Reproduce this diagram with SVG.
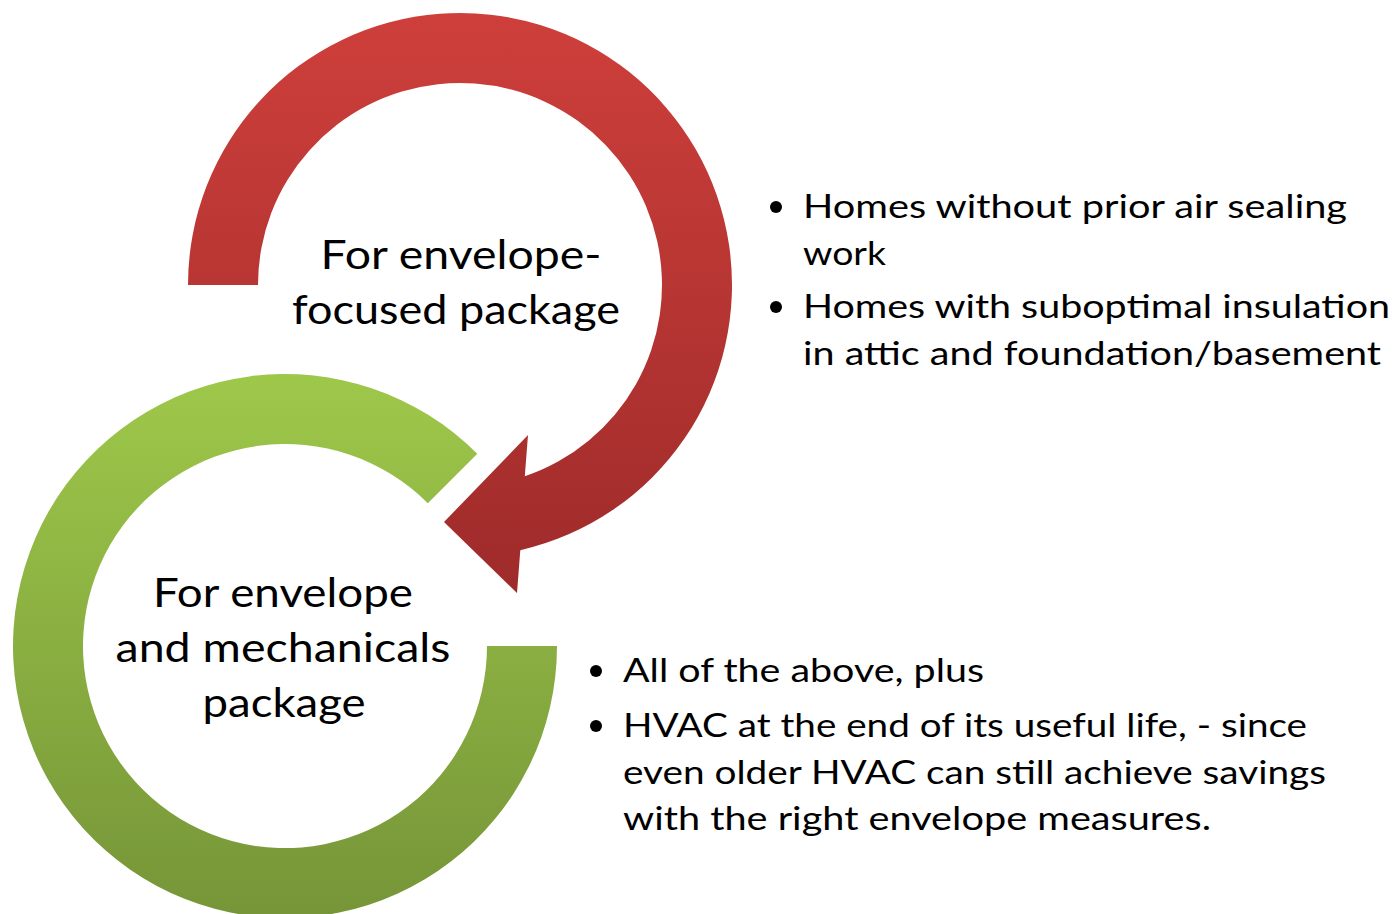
<svg xmlns="http://www.w3.org/2000/svg" width="1397" height="914" viewBox="0 0 1397 914">
  <style>
    .lbl { font-family: Lato, "Open Sans", "Liberation Sans", sans-serif; font-size: 40px; fill: #000; text-anchor: middle; }
    .blt { font-family: Lato, "Open Sans", "Liberation Sans", sans-serif; font-size: 33px; fill: #000; }
    .dot { fill: #000; }
  </style>
  <defs>
    <linearGradient id="gRed" gradientUnits="userSpaceOnUse" x1="0" y1="13" x2="0" y2="593">
      <stop offset="0" stop-color="#CE3F3B"/>
      <stop offset="1" stop-color="#9E2B2A"/>
    </linearGradient>
    <linearGradient id="gGreen" gradientUnits="userSpaceOnUse" x1="0" y1="374" x2="0" y2="918">
      <stop offset="0" stop-color="#9EC84A"/>
      <stop offset="1" stop-color="#769538"/>
    </linearGradient>
  </defs>
  <rect width="1397" height="914" fill="#fff"/>

  <g id="connectors"></g>

  <g id="node-envelope-focused">
    <path fill="url(#gRed)" d="M188,285 A272,272 0 1 1 520.3,550.2 L517,593 L444,522 L528,435 L524.8,476.3 A202,202 0 1 0 258,285 Z"/>
    <text class="lbl" x="461" y="269" textLength="281" lengthAdjust="spacingAndGlyphs">For envelope-</text>
    <text class="lbl" x="456" y="324" textLength="328" lengthAdjust="spacingAndGlyphs">focused package</text>
  </g>

  <g id="node-envelope-mechanicals">
    <path fill="url(#gGreen)" d="M557,646 A272,272 0 1 1 477.3,453.7 L427.8,503.2 A202,202 0 1 0 487,646 Z"/>
    <text class="lbl" x="283" y="607" textLength="260" lengthAdjust="spacingAndGlyphs">For envelope</text>
    <text class="lbl" x="283" y="662" textLength="335" lengthAdjust="spacingAndGlyphs">and mechanicals</text>
    <text class="lbl" x="284" y="717" textLength="163" lengthAdjust="spacingAndGlyphs">package</text>
  </g>

  <g id="bullets-envelope-focused">
    <circle class="dot" cx="776" cy="207" r="6"/>
    <text class="blt" x="803" y="218" textLength="544" lengthAdjust="spacingAndGlyphs">Homes without prior air sealing</text>
    <text class="blt" x="803" y="265" textLength="83" lengthAdjust="spacingAndGlyphs">work</text>
    <circle class="dot" cx="776" cy="307" r="6"/>
    <text class="blt" x="803" y="318" textLength="587" lengthAdjust="spacingAndGlyphs">Homes with suboptimal insulation</text>
    <text class="blt" x="803" y="365" textLength="578" lengthAdjust="spacingAndGlyphs">in attic and foundation/basement</text>
  </g>

  <g id="bullets-envelope-mechanicals">
    <circle class="dot" cx="596" cy="671" r="6"/>
    <text class="blt" x="623" y="682" textLength="361" lengthAdjust="spacingAndGlyphs">All of the above, plus</text>
    <circle class="dot" cx="596" cy="726" r="6"/>
    <text class="blt" x="623" y="737" textLength="684" lengthAdjust="spacingAndGlyphs">HVAC at the end of its useful life, - since</text>
    <text class="blt" x="623" y="784" textLength="703" lengthAdjust="spacingAndGlyphs">even older HVAC can still achieve savings</text>
    <text class="blt" x="623" y="830" textLength="588" lengthAdjust="spacingAndGlyphs">with the right envelope measures.</text>
  </g>
</svg>
